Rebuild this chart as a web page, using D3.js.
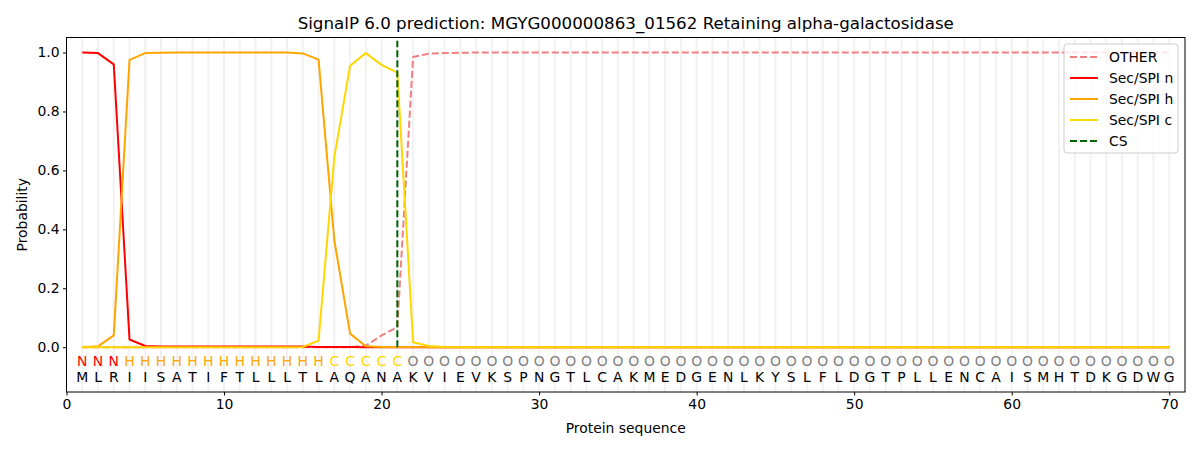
<!DOCTYPE html>
<html>
<head>
<meta charset="utf-8">
<script src="https://cdn.jsdelivr.net/npm/d3@7"></script>
<style>
  body { margin: 0; background: #fff; }
  text { font-family: "DejaVu Sans", sans-serif; }
</style>
</head>
<body>
<svg id="chart"></svg>
<script>
// residues and per-position labels
var sequence = "MLRIISATIFTLLLTLAQANAKVIEVKSPNGTLCAKMEDGENLKYSLFLDGTPLLENCAISMHTDKGDWG".split("");
var predLabels = "NNNHHHHHHHHHHHHHCCCCC".split("").concat(d3.range(49).map(function() { return "O"; }));

// probabilities for positions 1..30, everything after is flat
var otherHead = [0, 0, 0, 0, 0, 0, 0, 0, 0, 0, 0, 0, 0, 0, 0, 0, 0, 0, 0.005, 0.04, 0.068, 0.985, 0.996, 0.998, 0.999, 1, 1, 1, 1, 1];
var secNHead = [1, 0.998, 0.96, 0.026, 0.004, 0.002, 0.002, 0.002, 0.002, 0.002, 0.002, 0.002, 0.002, 0.002, 0.002, 0.001, 0.001, 0.001, 0, 0, 0, 0, 0, 0, 0, 0, 0, 0, 0, 0];
var secHHead = [0, 0.003, 0.04, 0.975, 0.998, 0.999, 1, 1, 1, 1, 1, 1, 1, 1, 0.997, 0.976, 0.363, 0.046, 0.003, 0.001, 0.001, 0.001, 0, 0, 0, 0, 0, 0, 0, 0];
var secCHead = [0, 0, 0, 0, 0, 0, 0, 0, 0, 0, 0, 0, 0, 0, 0.001, 0.022, 0.645, 0.955, 0.998, 0.958, 0.932, 0.017, 0.004, 0.001, 0, 0, 0, 0, 0, 0];

var otherProb = otherHead.concat(d3.range(40).map(function() { return 1; }));
var secNProb = secNHead.concat(d3.range(40).map(function() { return 0; }));
var secHProb = secHHead.concat(d3.range(40).map(function() { return 0; }));
var secCProb = secCHead.concat(d3.range(40).map(function() { return 0; }));

var csPos = 21;
var xTicks = [0, 10, 20, 30, 40, 50, 60, 70];
var yTicks = [0, 0.2, 0.4, 0.6, 0.8, 1.0];

var w = 1200, h = 450;
var margin = { left: 66.5, right: 15, top: 37.5, bottom: 58 };

var labelColors = { N: "#ff0000", H: "#ffa500", C: "#ffd700", O: "#808080" };

var series = [
    { name: "OTHER", values: otherProb, color: "#f08080", dash: "7,3" },
    { name: "Sec/SPI n", values: secNProb, color: "#ff0000", dash: null },
    { name: "Sec/SPI h", values: secHProb, color: "#ffa500", dash: null },
    { name: "Sec/SPI c", values: secCProb, color: "#ffd700", dash: null }
];

var svg = d3.select("#chart").attr("width", w).attr("height", h);

var x = d3.scaleLinear().domain([0, 71]).range([margin.left, w - margin.right]);
var y = d3.scaleLinear().domain([-0.152, 1.051]).range([h - margin.bottom, margin.top]);

// vertical grid at each residue
svg.append("g").selectAll("line")
    .data(sequence)
    .enter().append("line")
    .attr("x1", function(d, i) { return x(i + 1); })
    .attr("x2", function(d, i) { return x(i + 1); })
    .attr("y1", y.range()[0])
    .attr("y2", y.range()[1])
    .attr("stroke", "#f1f1f1")
    .attr("stroke-width", 2);

var line = d3.line()
    .x(function(d, i) { return x(i + 1); })
    .y(function(d) { return y(d); });

svg.append("g").selectAll("path")
    .data(series)
    .enter().append("path")
    .attr("d", function(d) { return line(d.values); })
    .attr("fill", "none")
    .attr("stroke", function(d) { return d.color; })
    .attr("stroke-width", 2)
    .attr("stroke-dasharray", function(d) { return d.dash; })
    .attr("stroke-linejoin", "round");

// cleavage site
svg.append("line")
    .attr("x1", x(csPos)).attr("x2", x(csPos))
    .attr("y1", y(0)).attr("y2", y(1.04))
    .attr("stroke", "#006400")
    .attr("stroke-width", 2)
    .attr("stroke-dasharray", "7,3");

// label rows
svg.append("g").selectAll("text")
    .data(predLabels)
    .enter().append("text")
    .attr("x", function(d, i) { return x(i + 1); })
    .attr("y", 366)
    .attr("text-anchor", "middle")
    .attr("font-size", "13.9px")
    .attr("fill", function(d) { return labelColors[d]; })
    .text(function(d) { return d; });

svg.append("g").selectAll("text")
    .data(sequence)
    .enter().append("text")
    .attr("x", function(d, i) { return x(i + 1); })
    .attr("y", 382)
    .attr("text-anchor", "middle")
    .attr("font-size", "13.9px")
    .attr("fill", "#000")
    .text(function(d) { return d; });

// axes
var xAxis = svg.append("g")
    .attr("transform", "translate(0," + y.range()[0] + ")")
    .call(d3.axisBottom(x).tickValues(xTicks).tickSize(3.5).tickPadding(3.5).tickFormat(d3.format("d")));
var yAxis = svg.append("g")
    .attr("transform", "translate(" + margin.left + ",0)")
    .call(d3.axisLeft(y).tickValues(yTicks).tickSize(3.5).tickPadding(3.5).tickFormat(d3.format(".1f")));

[xAxis, yAxis].forEach(function(a) {
    a.selectAll("text").attr("font-size", "13.9px").attr("fill", "#000").attr("font-family", "DejaVu Sans");
    a.selectAll("line").attr("stroke", "#000").attr("stroke-width", 1);
    a.select(".domain").remove();
});

// frame
svg.append("rect")
    .attr("x", margin.left).attr("y", margin.top)
    .attr("width", w - margin.right - margin.left)
    .attr("height", h - margin.bottom - margin.top)
    .attr("fill", "none")
    .attr("stroke", "#000")
    .attr("stroke-width", 1);

svg.append("text")
    .attr("x", (margin.left + w - margin.right) / 2)
    .attr("y", 29)
    .attr("text-anchor", "middle")
    .attr("font-size", "16.7px")
    .text("SignalP 6.0 prediction: MGYG000000863_01562 Retaining alpha-galactosidase");

svg.append("text")
    .attr("x", (margin.left + w - margin.right) / 2)
    .attr("y", 433)
    .attr("text-anchor", "middle")
    .attr("font-size", "13.9px")
    .text("Protein sequence");

svg.append("text")
    .attr("transform", "translate(27," + (margin.top + h - margin.bottom) / 2 + ") rotate(-90)")
    .attr("text-anchor", "middle")
    .attr("font-size", "13.9px")
    .text("Probability");

// legend
var legendItems = series.map(function(s) { return { name: s.name, color: s.color, dash: s.dash }; })
    .concat([{ name: "CS", color: "#006400", dash: "7,3" }]);

var legend = svg.append("g").attr("transform", "translate(1064,44)");
legend.append("rect")
    .attr("width", 114).attr("height", 109)
    .attr("rx", 3)
    .attr("fill", "#fff").attr("fill-opacity", 0.8)
    .attr("stroke", "#cccccc");

var li = legend.selectAll("g.item")
    .data(legendItems)
    .enter().append("g")
    .attr("class", "item")
    .attr("transform", function(d, i) { return "translate(0," + (13 + i * 21) + ")"; });
li.append("line")
    .attr("x1", 6).attr("x2", 34)
    .attr("stroke", function(d) { return d.color; })
    .attr("stroke-width", 2)
    .attr("stroke-dasharray", function(d) { return d.dash; });
li.append("text")
    .attr("x", 45).attr("y", 5)
    .attr("font-size", "13.9px")
    .text(function(d) { return d.name; });
</script>
</body>
</html>
